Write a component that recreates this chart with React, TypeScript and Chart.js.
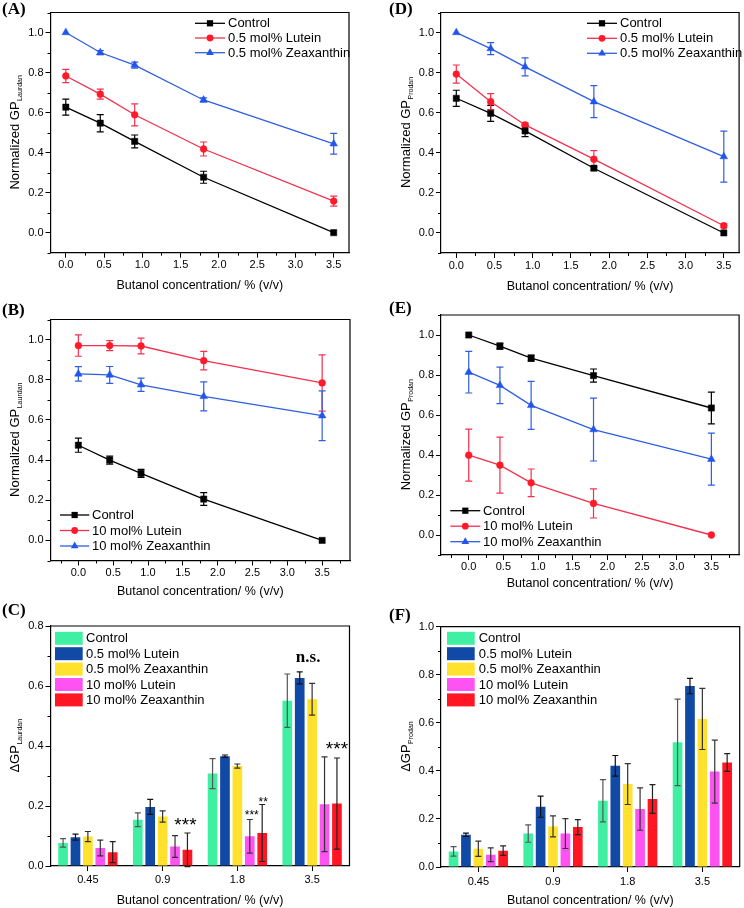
import React, { useEffect, useRef } from "react";
import { Chart, registerables } from "chart.js";
Chart.register(...registerables);

const SANS = '"Liberation Sans", Arial, Helvetica, sans-serif';
const SERIF = '"Liberation Serif", "Times New Roman", serif';

// ---------------- shared axes ----------------
const concentration = [0, 0.45, 0.9, 1.8, 3.5];
const lineXTicks = [0, 0.5, 1.0, 1.5, 2.0, 2.5, 3.0, 3.5];
const lineYTicks = [0, 0.2, 0.4, 0.6, 0.8, 1.0];
const barCategories = ["0.45", "0.9", "1.8", "3.5"];
const barYTicksC = [0, 0.2, 0.4, 0.6, 0.8];
const barYTicksF = [0, 0.2, 0.4, 0.6, 0.8, 1.0];
const xTitle = "Butanol concentration/ % (v/v)";

// ---------------- (A) Laurdan, 0.5 mol% ----------------
const aControl = [0.627, 0.547, 0.456, 0.277, 0.0];
const aControlErr = [0.04, 0.043, 0.032, 0.03, 0.0];
const aLutein = [0.783, 0.692, 0.589, 0.418, 0.158];
const aLuteinErr = [0.033, 0.025, 0.055, 0.035, 0.025];
const aZea = [1.0, 0.9, 0.837, 0.663, 0.444];
const aZeaErr = [0.0, 0.01, 0.015, 0.01, 0.052];

// ---------------- (D) Prodan, 0.5 mol% ----------------
const dControl = [0.672, 0.597, 0.509, 0.323, 0.0];
const dControlErr = [0.04, 0.04, 0.028, 0.01, 0.0];
const dLutein = [0.793, 0.655, 0.539, 0.368, 0.036];
const dLuteinErr = [0.045, 0.04, 0.01, 0.043, 0.01];
const dZea = [1.0, 0.92, 0.829, 0.655, 0.381];
const dZeaErr = [0.0, 0.03, 0.045, 0.08, 0.127];

// ---------------- (B) Laurdan, 10 mol% ----------------
const bControl = [0.474, 0.4, 0.334, 0.206, 0.0];
const bControlErr = [0.035, 0.02, 0.02, 0.032, 0.0];
const bLutein = [0.97, 0.97, 0.968, 0.895, 0.784];
const bLuteinErr = [0.053, 0.025, 0.039, 0.046, 0.14];
const bZea = [0.829, 0.824, 0.775, 0.717, 0.621];
const bZeaErr = [0.036, 0.042, 0.033, 0.072, 0.124];

// ---------------- (E) Prodan, 10 mol% ----------------
const eControl = [1.0, 0.944, 0.884, 0.797, 0.635];
const eControlErr = [0.0, 0.015, 0.015, 0.033, 0.079];
const eLutein = [0.399, 0.349, 0.261, 0.158, 0.0];
const eLuteinErr = [0.13, 0.14, 0.069, 0.073, 0.0];
const eZea = [0.814, 0.748, 0.648, 0.527, 0.379];
const eZeaErr = [0.104, 0.091, 0.12, 0.157, 0.13];

// ---------------- (C) ΔGP Laurdan ----------------
const cControl = [0.077, 0.154, 0.308, 0.551];
const cControlErr = [0.014, 0.023, 0.05, 0.089];
const cLutein05 = [0.096, 0.197, 0.366, 0.627];
const cLutein05Err = [0.01, 0.025, 0.004, 0.02];
const cZea05 = [0.098, 0.165, 0.333, 0.556];
const cZea05Err = [0.017, 0.019, 0.007, 0.053];
const cLutein10 = [0.06, 0.065, 0.099, 0.206];
const cLutein10Err = [0.026, 0.036, 0.056, 0.158];
const cZea10 = [0.046, 0.054, 0.11, 0.208];
const cZea10Err = [0.035, 0.056, 0.095, 0.152];

// ---------------- (F) ΔGP Prodan ----------------
const fControl = [0.065, 0.139, 0.276, 0.519];
const fControlErr = [0.02, 0.036, 0.088, 0.18];
const fLutein05 = [0.134, 0.251, 0.421, 0.753];
const fLutein05Err = [0.007, 0.044, 0.043, 0.032];
const fZea05 = [0.076, 0.169, 0.345, 0.616];
const fZea05Err = [0.032, 0.044, 0.085, 0.127];
const fLutein10 = [0.051, 0.139, 0.241, 0.397];
const fLutein10Err = [0.029, 0.062, 0.088, 0.131];
const fZea10 = [0.068, 0.166, 0.283, 0.435];
const fZea10Err = [0.02, 0.031, 0.06, 0.037];

// ---------------- styles ----------------
const BLACK = { line: "#000000", marker: "#000000", shape: "rect", radius: 4.4 };
const RED = { line: "#f5304e", marker: "#ff1a2a", shape: "circle", radius: 3.4 };
const BLUE = { line: "#2f5fe0", marker: "#2255ee", shape: "triangle", radius: 4.4 };

const GREEN_BAR = { fill: "#3ff0a3", err: "#555555" };
const NAVY_BAR = { fill: "#1049a6", err: "#111111" };
const YELLOW_BAR = { fill: "#ffe12e", err: "#333333" };
const PINK_BAR = { fill: "#ff52f2", err: "#333333" };
const RED_BAR = { fill: "#ff1622", err: "#222222" };

type Rect = { left: number; top: number; width: number; height: number };
type Plot = { l: number; t: number; r: number; b: number };

const panelA = {
  kind: "line", letter: "(A)", letterAt: [2, 10],
  canvas: { left: 0, top: 0, width: 372, height: 293 },
  plot: { l: 50.5, t: 12.5, r: 349, b: 252.7 },
  xMin: -0.2, xMax: 3.7, yMin: -0.1, yMax: 1.1,
  xTicks: lineXTicks, yTicks: lineYTicks, yTitle: "Normalized GP", ySub: "Laurdan", tickPad: 1,
  series: [
    { label: "Control", values: aControl, errors: aControlErr, ...BLACK },
    { label: "0.5 mol% Lutein", values: aLutein, errors: aLuteinErr, ...RED },
    { label: "0.5 mol% Zeaxanthin", values: aZea, errors: aZeaErr, ...BLUE },
  ],
  legend: { x0: 195, x1: 225, tx: 228, y0: 23.3, dy: 14.7 },
};

const panelD = {
  kind: "line", letter: "(D)", letterAt: [389, 10],
  canvas: { left: 372, top: 0, width: 372, height: 294 },
  plot: { l: 441, t: 12.5, r: 739.7, b: 253 },
  xMin: -0.2, xMax: 3.7, yMin: -0.1, yMax: 1.1,
  xTicks: lineXTicks, yTicks: lineYTicks, yTitle: "Normalized GP", ySub: "Prodan", tickPad: 1,
  series: [
    { label: "Control", values: dControl, errors: dControlErr, ...BLACK },
    { label: "0.5 mol% Lutein", values: dLutein, errors: dLuteinErr, ...RED },
    { label: "0.5 mol% Zeaxanthin", values: dZea, errors: dZeaErr, ...BLUE },
  ],
  legend: { x0: 587, x1: 617, tx: 620, y0: 23.3, dy: 15 },
};

const panelB = {
  kind: "line", letter: "(B)", letterAt: [2, 311],
  canvas: { left: 0, top: 296, width: 372, height: 303 },
  plot: { l: 50.5, t: 319.5, r: 350, b: 560.5 },
  xMin: -0.4, xMax: 3.9, yMin: -0.1, yMax: 1.1,
  xTicks: lineXTicks, yTicks: lineYTicks, yTitle: "Normalized GP", ySub: "Laurdan", tickPad: 1,
  series: [
    { label: "Control", values: bControl, errors: bControlErr, ...BLACK },
    { label: "10 mol% Lutein", values: bLutein, errors: bLuteinErr, ...RED },
    { label: "10 mol% Zeaxanthin", values: bZea, errors: bZeaErr, ...BLUE },
  ],
  legend: { x0: 60, x1: 89.3, tx: 92, y0: 515, dy: 15.5 },
};

const panelE = {
  kind: "line", letter: "(E)", letterAt: [389, 309],
  canvas: { left: 372, top: 296, width: 372, height: 295 },
  plot: { l: 441, t: 315, r: 739.7, b: 555 },
  xMin: -0.4, xMax: 3.9, yMin: -0.1, yMax: 1.1,
  xTicks: lineXTicks, yTicks: lineYTicks, yTitle: "Normalized GP", ySub: "Prodan", tickPad: 0,
  series: [
    { label: "Control", values: eControl, errors: eControlErr, ...BLACK },
    { label: "10 mol% Lutein", values: eLutein, errors: eLuteinErr, ...RED },
    { label: "10 mol% Zeaxanthin", values: eZea, errors: eZeaErr, ...BLUE },
  ],
  legend: { x0: 450.3, x1: 480.3, tx: 483, y0: 510.7, dy: 15.5 },
};

const panelC = {
  kind: "bar", letter: "(C)", letterAt: [2, 611],
  canvas: { left: 0, top: 598, width: 372, height: 310 },
  plot: { l: 50.5, t: 626, r: 349.5, b: 866 },
  yMin: 0, yMax: 0.8, yTicks: barYTicksC, yTitle: "\u0394GP", ySub: "Laurdan", tickPad: 2.5,
  series: [
    { label: "Control", values: cControl, errors: cControlErr, ...GREEN_BAR },
    { label: "0.5 mol% Lutein", values: cLutein05, errors: cLutein05Err, ...NAVY_BAR },
    { label: "0.5 mol% Zeaxanthin", values: cZea05, errors: cZea05Err, ...YELLOW_BAR },
    { label: "10 mol% Lutein", values: cLutein10, errors: cLutein10Err, ...PINK_BAR },
    { label: "10 mol% Zeaxanthin", values: cZea10, errors: cZea10Err, ...RED_BAR },
  ],
  legend: { bx: 55, bw: 27.7, bh: 13, tx: 86, y0: 638.3, dy: 15.4 },
  notes: [
    { text: "n.s.", group: 3, dataset: 2, dx: -4, value: 0.693, font: `bold 17px ${SERIF}`, star: false },
    { text: "***", group: 1, dataset: 4, dx: -2, value: 0.153, font: `19px ${SANS}`, star: true },
    { text: "***", group: 2, dataset: 3, dx: 2, value: 0.181, font: `12px ${SANS}`, star: true },
    { text: "**", group: 2, dataset: 4, dx: 1, value: 0.222, font: `12px ${SANS}`, star: true },
    { text: "***", group: 3, dataset: 4, dx: 0, value: 0.407, font: `19px ${SANS}`, star: true },
  ],
};

const panelF = {
  kind: "bar", letter: "(F)", letterAt: [389, 616],
  canvas: { left: 372, top: 598, width: 372, height: 310 },
  plot: { l: 441, t: 626.7, r: 739.7, b: 867 },
  yMin: 0, yMax: 1.0, yTicks: barYTicksF, yTitle: "\u0394GP", ySub: "Prodan", tickPad: 3,
  series: [
    { label: "Control", values: fControl, errors: fControlErr, ...GREEN_BAR },
    { label: "0.5 mol% Lutein", values: fLutein05, errors: fLutein05Err, ...NAVY_BAR },
    { label: "0.5 mol% Zeaxanthin", values: fZea05, errors: fZea05Err, ...YELLOW_BAR },
    { label: "10 mol% Lutein", values: fLutein10, errors: fLutein10Err, ...PINK_BAR },
    { label: "10 mol% Zeaxanthin", values: fZea10, errors: fZea10Err, ...RED_BAR },
  ],
  legend: { bx: 447, bw: 27.7, bh: 13, tx: 478.7, y0: 638.3, dy: 15.4 },
  notes: [],
};

// ---------------- drawing helpers ----------------
function drawMarker(ctx: CanvasRenderingContext2D, shape: string, x: number, y: number, r: number, color: string) {
  ctx.save();
  ctx.fillStyle = color;
  ctx.beginPath();
  if (shape === "rect") {
    const s = r * Math.SQRT1_2;
    ctx.rect(x - s, y - s, 2 * s, 2 * s);
  } else if (shape === "circle") {
    ctx.arc(x, y, r, 0, Math.PI * 2);
  } else {
    const a = (2 * Math.PI) / 3;
    ctx.moveTo(x, y - r);
    ctx.lineTo(x + Math.sin(a) * r, y - Math.cos(a) * r);
    ctx.lineTo(x + Math.sin(2 * a) * r, y - Math.cos(2 * a) * r);
    ctx.closePath();
  }
  ctx.fill();
  ctx.restore();
}

function drawFrameAndMinor(chart: any, minorX: boolean) {
  const ctx = chart.ctx as CanvasRenderingContext2D;
  const { left, right, top, bottom } = chart.chartArea;
  ctx.save();
  ctx.strokeStyle = "#000";
  ctx.lineWidth = 1.2;
  ctx.beginPath();
  ctx.moveTo(left, top);
  ctx.lineTo(right, top);
  ctx.lineTo(right, bottom);
  ctx.stroke();
  ctx.lineWidth = 1;
  const minors = (scale: any) => {
    const vals = scale.ticks.map((t: any) => t.value);
    const step = vals[1] - vals[0];
    const out: number[] = [];
    for (let v = vals[0] - step / 2; v <= scale.max + 1e-9; v += step) {
      if (v >= scale.min - 1e-9) out.push(v);
    }
    return out;
  };
  const ys = chart.scales.y;
  ctx.beginPath();
  minors(ys).forEach((v) => {
    const py = Math.round(ys.getPixelForValue(v)) + 0.5;
    ctx.moveTo(left, py);
    ctx.lineTo(left - 3, py);
  });
  if (minorX) {
    const xs = chart.scales.x;
    minors(xs).forEach((v) => {
      const px = Math.round(xs.getPixelForValue(v)) + 0.5;
      ctx.moveTo(px, bottom);
      ctx.lineTo(px, bottom + 3);
    });
  }
  ctx.stroke();
  ctx.restore();
}

function drawYTitle(chart: any, main: string, sub: string) {
  const ctx = chart.ctx as CanvasRenderingContext2D;
  const { left, top, bottom } = chart.chartArea;
  const cx = left - 36;
  const cy = (top + bottom) / 2;
  ctx.save();
  ctx.translate(cx, cy);
  ctx.rotate(-Math.PI / 2);
  ctx.fillStyle = "#000";
  ctx.textBaseline = "alphabetic";
  ctx.textAlign = "left";
  ctx.font = `13px ${SANS}`;
  const w1 = ctx.measureText(main).width;
  ctx.font = `7px ${SANS}`;
  const w2 = ctx.measureText(sub).width;
  const x0 = -(w1 + w2) / 2;
  ctx.font = `13px ${SANS}`;
  ctx.fillText(main, x0, 4.7);
  ctx.font = `7px ${SANS}`;
  ctx.fillText(sub, x0 + w1 + 0.5, 7.5);
  ctx.restore();
}

function drawLetter(chart: any, p: any) {
  const ctx = chart.ctx as CanvasRenderingContext2D;
  ctx.save();
  ctx.fillStyle = "#000";
  ctx.font = `bold 17px ${SERIF}`;
  ctx.textBaseline = "middle";
  ctx.textAlign = "left";
  ctx.fillText(p.letter, p.letterAt[0] - p.canvas.left, p.letterAt[1] - p.canvas.top);
  ctx.restore();
}

function linePlugin(p: any) {
  return {
    id: "overlay",
    beforeDatasetsDraw(chart: any) {
      const ctx = chart.ctx as CanvasRenderingContext2D;
      const xs = chart.scales.x;
      const ys = chart.scales.y;
      p.series.forEach((s: any) => {
        ctx.save();
        ctx.strokeStyle = s.line;
        ctx.lineWidth = 1.2;
        ctx.beginPath();
        concentration.forEach((xv, i) => {
          const e = s.errors[i];
          if (!e) return;
          const px = xs.getPixelForValue(xv);
          const y1 = ys.getPixelForValue(s.values[i] + e);
          const y2 = ys.getPixelForValue(s.values[i] - e);
          ctx.moveTo(px, y1);
          ctx.lineTo(px, y2);
          ctx.moveTo(px - 3.5, y1);
          ctx.lineTo(px + 3.5, y1);
          ctx.moveTo(px - 3.5, y2);
          ctx.lineTo(px + 3.5, y2);
        });
        ctx.stroke();
        ctx.restore();
      });
    },
    afterDraw(chart: any) {
      const ctx = chart.ctx as CanvasRenderingContext2D;
      drawFrameAndMinor(chart, true);
      drawYTitle(chart, p.yTitle, p.ySub);
      drawLetter(chart, p);
      const L = p.legend;
      const ox = p.canvas.left;
      const oy = p.canvas.top;
      p.series.forEach((s: any, i: number) => {
        const y = L.y0 + i * L.dy - oy;
        ctx.save();
        ctx.strokeStyle = s.line;
        ctx.lineWidth = 1.3;
        ctx.beginPath();
        ctx.moveTo(L.x0 - ox, y);
        ctx.lineTo(L.x1 - ox, y);
        ctx.stroke();
        ctx.restore();
        drawMarker(ctx, s.shape, (L.x0 + L.x1) / 2 - ox, y, s.radius, s.marker);
        ctx.save();
        ctx.fillStyle = "#000";
        ctx.font = `13px ${SANS}`;
        ctx.textBaseline = "middle";
        ctx.fillText(s.label, L.tx - ox, y + 0.5);
        ctx.restore();
      });
    },
  };
}

function barPlugin(p: any) {
  return {
    id: "overlay",
    afterDatasetsDraw(chart: any) {
      const ctx = chart.ctx as CanvasRenderingContext2D;
      const ys = chart.scales.y;
      p.series.forEach((s: any, di: number) => {
        const meta = chart.getDatasetMeta(di);
        ctx.save();
        ctx.strokeStyle = s.err;
        ctx.lineWidth = 1.2;
        ctx.beginPath();
        s.values.forEach((v: number, i: number) => {
          const e = s.errors[i];
          const px = meta.data[i].x;
          const y1 = ys.getPixelForValue(v + e);
          const y2 = ys.getPixelForValue(v - e);
          ctx.moveTo(px, y1);
          ctx.lineTo(px, y2);
          ctx.moveTo(px - 3, y1);
          ctx.lineTo(px + 3, y1);
          ctx.moveTo(px - 3, y2);
          ctx.lineTo(px + 3, y2);
        });
        ctx.stroke();
        ctx.restore();
      });
    },
    afterDraw(chart: any) {
      const ctx = chart.ctx as CanvasRenderingContext2D;
      drawFrameAndMinor(chart, false);
      drawYTitle(chart, p.yTitle, p.ySub);
      drawLetter(chart, p);
      const L = p.legend;
      const ox = p.canvas.left;
      const oy = p.canvas.top;
      p.series.forEach((s: any, i: number) => {
        const y = L.y0 + i * L.dy - oy;
        ctx.save();
        ctx.fillStyle = s.fill;
        ctx.fillRect(L.bx - ox, y - L.bh / 2, L.bw, L.bh);
        ctx.fillStyle = "#000";
        ctx.font = `13px ${SANS}`;
        ctx.textBaseline = "middle";
        ctx.fillText(s.label, L.tx - ox, y + 0.5);
        ctx.restore();
      });
      const ys = chart.scales.y;
      p.notes.forEach((n: any) => {
        const meta = chart.getDatasetMeta(n.dataset);
        const px = meta.data[n.group].x + n.dx;
        const py = ys.getPixelForValue(n.value);
        ctx.save();
        ctx.fillStyle = "#000";
        ctx.font = n.font;
        ctx.textAlign = "center";
        if (n.star) {
          const size = parseFloat(n.font.match(/([\d.]+)px/)[1]);
          ctx.textBaseline = "alphabetic";
          ctx.fillText(n.text, px, py + size * 0.58);
        } else {
          ctx.textBaseline = "middle";
          ctx.fillText(n.text, px, py);
        }
        ctx.restore();
      });
    },
  };
}

function axisCommon(p: any) {
  const cx = p.canvas.left;
  const cy = p.canvas.top;
  return {
    padTop: p.plot.t - cy,
    padRight: cx + p.canvas.width - p.plot.r,
    yW: p.plot.l - cx,
    xH: cy + p.canvas.height - p.plot.b,
  };
}

function yScale(p: any, yW: number) {
  return {
    type: "linear",
    min: p.yMin,
    max: p.yMax,
    afterBuildTicks: (s: any) => {
      s.ticks = p.yTicks.map((v: number) => ({ value: v }));
    },
    ticks: {
      callback: (v: any) => Number(v).toFixed(1),
      font: { family: SANS, size: 11 },
      color: "#000",
      padding: 2,
      autoSkip: false,
    },
    grid: { display: true, drawOnChartArea: false, drawTicks: true, tickLength: 5, color: "#000", lineWidth: 1 },
    border: { display: true, color: "#000", width: 1.2 },
    afterFit: (s: any) => {
      s.width = yW;
      s.paddingTop = 0;
      s.paddingBottom = 0;
    },
  };
}

function xTitleOpts() {
  return {
    display: true,
    text: xTitle,
    color: "#000",
    font: { family: SANS, size: 12.5 },
    padding: { top: 0, bottom: 0 },
  };
}

function lineConfig(p: any): any {
  const { padTop, padRight, yW, xH } = axisCommon(p);
  return {
    type: "line",
    data: {
      datasets: p.series.map((s: any) => ({
        label: s.label,
        data: concentration.map((x, i) => ({ x, y: s.values[i] })),
        borderColor: s.line,
        backgroundColor: s.marker,
        pointBackgroundColor: s.marker,
        pointBorderColor: s.marker,
        pointBorderWidth: 0.5,
        pointStyle: s.shape,
        pointRadius: s.radius,
        borderWidth: 1.3,
        tension: 0,
        fill: false,
      })),
    },
    options: {
      animation: false,
      responsive: false,
      events: [],
      layout: { padding: { left: 0, top: padTop, right: padRight, bottom: 0 } },
      plugins: { legend: { display: false }, tooltip: { enabled: false } },
      scales: {
        x: {
          type: "linear",
          min: p.xMin,
          max: p.xMax,
          afterBuildTicks: (s: any) => {
            s.ticks = p.xTicks.map((v: number) => ({ value: v }));
          },
          ticks: {
            callback: (v: any) => Number(v).toFixed(1),
            font: { family: SANS, size: 11 },
            color: "#000",
            padding: p.tickPad,
            maxRotation: 0,
            autoSkip: false,
          },
          grid: { display: true, drawOnChartArea: false, drawTicks: true, tickLength: 5, color: "#000", lineWidth: 1 },
          border: { display: true, color: "#000", width: 1.2 },
          title: xTitleOpts(),
          afterFit: (s: any) => {
            s.height = xH;
            s.paddingLeft = 0;
            s.paddingRight = 0;
          },
        },
        y: yScale(p, yW),
      },
    },
    plugins: [linePlugin(p)],
  };
}

function barConfig(p: any): any {
  const { padTop, padRight, yW, xH } = axisCommon(p);
  return {
    type: "bar",
    data: {
      labels: barCategories,
      datasets: p.series.map((s: any) => ({
        label: s.label,
        data: s.values,
        backgroundColor: s.fill,
        borderWidth: 0,
        barPercentage: 0.78,
        categoryPercentage: 0.83,
      })),
    },
    options: {
      animation: false,
      responsive: false,
      events: [],
      layout: { padding: { left: 0, top: padTop, right: padRight, bottom: 0 } },
      plugins: { legend: { display: false }, tooltip: { enabled: false } },
      scales: {
        x: {
          type: "category",
          offset: true,
          ticks: { font: { family: SANS, size: 11 }, color: "#000", padding: p.tickPad, maxRotation: 0, autoSkip: false },
          grid: { display: true, offset: false, drawOnChartArea: false, drawTicks: true, tickLength: 5, color: "#000", lineWidth: 1 },
          border: { display: true, color: "#000", width: 1.2 },
          title: xTitleOpts(),
          afterFit: (s: any) => {
            s.height = xH;
            s.paddingLeft = 0;
            s.paddingRight = 0;
          },
        },
        y: yScale(p, yW),
      },
    },
    plugins: [barPlugin(p)],
  };
}

function Panel({ spec }: { spec: any }) {
  const ref = useRef<HTMLCanvasElement>(null);
  useEffect(() => {
    if (!ref.current) return;
    const cfg = spec.kind === "line" ? lineConfig(spec) : barConfig(spec);
    const chart = new Chart(ref.current, cfg);
    return () => chart.destroy();
  }, [spec]);
  const c: Rect = spec.canvas;
  return (
    <canvas
      ref={ref}
      width={c.width}
      height={c.height}
      style={{ position: "absolute", left: c.left, top: c.top, width: c.width, height: c.height }}
    />
  );
}

const panels = [panelA, panelD, panelB, panelE, panelC, panelF];

export default function App() {
  return (
    <div
      style={{
        position: "absolute",
        left: 0,
        top: 0,
        width: 744,
        height: 908,
        background: "#ffffff",
        overflow: "hidden",
      }}
    >
      {panels.map((p) => (
        <Panel key={p.letter} spec={p} />
      ))}
    </div>
  );
}
